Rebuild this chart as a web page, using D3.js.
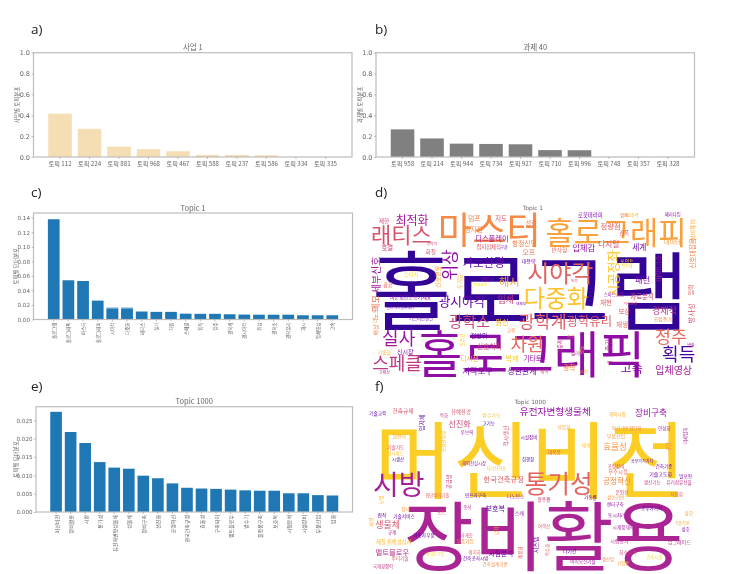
<!DOCTYPE html>
<html><head><meta charset="utf-8">
<script src="https://cdn.jsdelivr.net/npm/d3@7/dist/d3.min.js"></script>
<style>
html,body{margin:0;padding:0;background:#fff;}
svg{display:block;filter:blur(0.5px);}
text{font-family:"Noto Sans CJK KR","Noto Sans",sans-serif;}
</style></head><body>
<svg id="c" width="734" height="574"></svg>
<script>
// Panel a / b
const aLabels=["토픽 112","토픽 224","토픽 881","토픽 968","토픽 467","토픽 588","토픽 237","토픽 586","토픽 334","토픽 335"];
const aValues=[0.415,0.27,0.1,0.075,0.055,0.02,0.02,0.017,0.002,0.001];
const bLabels=["토픽 958","토픽 214","토픽 944","토픽 734","토픽 927","토픽 710","토픽 996","토픽 748","토픽 357","토픽 328"];
const bValues=[0.265,0.178,0.128,0.125,0.122,0.066,0.065,0.001,0.001,0.001];
const unitTicks=[0,0.2,0.4,0.6,0.8,1.0];
// Panel c
const cLabels=["홀로그램","홀로그래픽","마스터","홀로그래피","시야각","다중화","래티스","실사","차원","스페클","획득","정주","광학계","광시야각","위상","광학소","광학유리","해시","입체영상","고속"];
const cValues=[0.138,0.054,0.053,0.026,0.0145,0.0145,0.011,0.0105,0.0105,0.008,0.0078,0.0078,0.0072,0.0068,0.0066,0.0066,0.0066,0.0058,0.0058,0.0058];
const cUpper=[0,0,0,0,0.0165,0.0165,0,0,0,0,0,0,0,0,0,0,0,0,0,0];
const cTicks=[0,0.02,0.04,0.06,0.08,0.10,0.12,0.14];
// Panel e
const eLabels=["머신비전","장비활용","시방","통기성","유전자변형생물체","생물체","장비구축","선진화","공정혁신","한국건축규정","효율성","구축되어","멜트블로우","방수기","플랫폼구축","보호복","시험분석","시설장비","부품산업","업화"];
const eValues=[0.0273,0.0218,0.0188,0.0136,0.0121,0.0118,0.0099,0.0092,0.0078,0.0066,0.0064,0.0063,0.0061,0.0059,0.0058,0.0058,0.0051,0.0051,0.0046,0.0045];
const eTicks=[0,0.005,0.01,0.015,0.02,0.025];

// Word cloud d: horizontal words
const dWords=["홀로그램","홀로그래픽","마스터","홀로그래피","래티스","최적화","시야각","다중화","가로환경","광시야각","광학소","광학계","광학유리","실사","스페클","차원","정주","획득","고속","입체영상","저작도구","성관관계","복제","기타토","디시젼","신호처리","전방위","원천","입체","해시","입체감","디지털","세계","패턴","자료분석","경제적","공점증기","보상","재현","재생","스마트그램","거리환경","디스플레이","항정신맹","접지점체적","구글","덤프","점지점","지도","선결","정량점","진폭","로봇테라피","정의","공급절게","패러다임","제한","데이터","호결","회절","광학적","프리지","오프","대용량","반사형","포인트","방주체","데이시","퍼널효과","미분회전능증기체표","달러 이미징촉매기","기스터반센신","대체부","광끝","특정","직각","기술들","신시장","고체상","교육","컬러","광학","제곡","시연","변환"];
const dX=[490,492,367,747,103,135,580,567,350,285,307,527,667,95,90,480,912,935,794,920,332,465,435,497,307,367,336,405,416,427,650,725,817,827,825,892,887,772,717,765,740,790,375,472,365,411,322,320,402,492,731,772,670,772,792,917,51,916,61,191,195,132,485,485,577,780,780,362,340,131,100,162,462,63,622,611,52,115,52,432,625,607,532,650,972];
const dY=[290,483,115,120,130,87,245,320,215,330,390,392,392,440,515,460,437,490,533,537,540,540,503,505,505,468,435,395,328,272,170,160,168,268,320,362,385,365,337,402,313,340,142,160,172,172,85,117,83,97,105,128,75,75,75,73,92,155,172,185,160,252,187,212,178,212,228,265,283,318,352,385,340,285,272,440,485,483,545,420,487,530,542,542,465];
const dEm=[258,149,112,92,66,36,72,70,34,38,45,52,37,54,54,54,52,54,36,30,25,24,22,20,20,20,18,22,26,34,25,23,23,24,19,27,15,19,19,20,13,11,22,20,16,12,21,20,20,18,22,16,16,14,12,13,17,18,19,17,11,16,21,15,17,15,12,15,11,15,11,13,11,16,11,12,15,18,12,14,15,20,14,14,12];
const dTone=[0.07,0.3,0.72,0.78,0.55,0.35,0.6,0.87,0.2,0.2,0.5,0.58,0.58,0.33,0.45,0.62,0.62,0.12,0.28,0.35,0.25,0.22,0.9,0.3,0.85,0.5,0.12,0.85,0.45,0.8,0.3,0.55,0.2,0.22,0.5,0.42,0.72,0.6,0.58,0.62,0.3,0.55,0.32,0.7,0.55,0.15,0.7,0.75,0.55,0.68,0.6,0.5,0.25,0.68,0.82,0.3,0.5,0.78,0.5,0.55,0.5,0.92,0.65,0.25,0.62,0.9,0.92,0.3,0.95,0.3,0.15,0.15,0.25,0.62,0.55,0.6,0.85,0.25,0.42,0.72,0.4,0.72,0.5,0.8,0.35];
// Word cloud d: vertical words
const dVWords=["위상","시공정좌","세부신호","하이웨이","신호대잡음","마이너스","신호변환","우기능","메모","노드","더","해상","입력","방사성","층간","이중계","조주요","광도","예"];
const dVX=[245,735,25,975,975,870,210,280,25,25,25,25,970,970,722,580,285,640,725];
const dVY=[225,250,255,120,190,235,260,275,340,370,392,420,300,370,465,470,450,480,518];
const dVEm=[50,38,30,18,20,22,18,16,26,20,14,18,18,22,20,16,14,15,14];
const dVTone=[0.3,0.88,0.35,0.8,0.7,0.35,0.8,0.85,0.65,0.7,0.72,0.7,0.6,0.55,0.42,0.45,0.88,0.8,0.4];

// Word cloud f: horizontal words
const fWords=["머신비전","장비활용","통기성","시방","유전자변형생물체","장비구축","선진화","효율성","공정혁신","한국건축규정","보호복","생물체","멜트블로우","제질 위해성심사","시험분석","기술교육","건축규제","유해환경","특화","방수기능","고기능","루브릭","기술지도","정전사","정시제도","시생산","시설장비","대폭봉","집행청","해외전실시장","지리산학표","산업화","세계","해외시장","혁신기반","첨단화","안성화","부품산업","공부가기기치","공정장비","우주시플","건축기준","기술고도화","발포형","유리섬유선물","생산기능","성능기반","분원선","자립화","가동률","센터구축","인프라구축","첨단뿌리기술","나노탄소","활용률","공부가가치","상한","동시처리","기술기반","상호","시제품제작","시험평가","업그레이드","회소금속","건축시방","다기간","바이오신기술","생산업","산업용","스캐","여객선","종석","인트","합작","기술서비스","규제","자동차부품","사계층","부품기업","합치하","건축공사시방","건축설계기준","바이오기업","뿌리기술","국제경쟁력","점사"];
const fX=[490,530,575,95,565,852,278,744,750,410,385,62,76,80,402,32,108,282,231,373,365,300,86,97,85,93,486,562,483,321,388,591,656,751,759,805,892,747,825,747,753,891,881,956,936,856,746,765,929,670,745,326,211,446,531,854,965,749,945,956,769,757,937,782,862,608,648,723,769,457,531,301,224,45,111,75,171,299,295,323,326,384,203,99,48,115];
const fY=[225,455,305,310,93,97,130,198,300,295,383,432,515,485,520,98,92,97,106,102,128,155,200,167,220,238,170,215,238,250,265,142,195,102,143,143,143,167,243,258,277,258,280,287,305,305,352,335,343,352,372,345,345,348,358,385,400,405,428,448,440,482,485,515,530,510,543,537,550,397,437,382,397,406,407,456,465,464,483,515,535,552,523,535,558,388];
const fEm=[254,228,74,84,29,26,24,26,23,22,21,27,22,16,20,14,17,16,13,15,14,14,14,15,13,13,14,14,13,13,13,14,14,14,14,14,14,15,12,14,16,14,15,14,14,14,14,14,14,14,14,14,13,14,14,14,14,14,12,13,14,15,15,14,13,15,14,13,13,15,13,13,13,14,14,14,14,13,14,13,14,14,12,14,13,13];
const fTone=[0.9,0.38,0.6,0.36,0.32,0.3,0.5,0.75,0.72,0.58,0.15,0.55,0.42,0.85,0.2,0.15,0.55,0.55,0.45,0.85,0.12,0.35,0.55,0.8,0.88,0.12,0.25,0.55,0.1,0.35,0.85,0.78,0.85,0.82,0.72,0.7,0.4,0.75,0.2,0.55,0.62,0.25,0.2,0.25,0.42,0.45,0.75,0.55,0.55,0.2,0.3,0.15,0.6,0.35,0.5,0.15,0.78,0.32,0.8,0.25,0.35,0.38,0.42,0.5,0.95,0.15,0.35,0.72,0.8,0.3,0.58,0.42,0.55,0.2,0.2,0.4,0.15,0.55,0.75,0.6,0.2,0.72,0.92,0.55,0.45,0.75];
// Word cloud f: vertical words
const fVWords=["적시생산","공정안정성","미세입자","공간","입자체","공급망","농업","패션","감지","시스템","제품화","특수화"];
const fVX=[415,228,955,903,163,245,42,12,388,505,460,540];
const fVY=[168,185,168,200,128,305,360,425,452,495,518,510];
const fVEm=[17,14,13,14,18,16,14,14,14,18,14,13];
const fVTone=[0.55,0.85,0.35,0.7,0.15,0.5,0.85,0.82,0.78,0.2,0.6,0.6];

const panelNames=["a)","b)","c)","d)","e)","f)"];
const axisGray="#bdbdbd", textGray="#666";
const svg=d3.select("#c");

function barPanel(o){
  const g=svg.append("g");
  const x=d3.scaleBand().domain(o.labels).range([o.l,o.r]).paddingInner(0.2).paddingOuter(o.outer);
  const y=d3.scaleLinear().domain(o.domain).range([o.b,o.t]);
  if(o.upper){
    g.selectAll("rect.u").data(o.upper).join("rect").attr("class","u")
      .attr("x",(d,i)=>x(o.labels[i])).attr("width",x.bandwidth())
      .attr("y",d=>y(d)).attr("height",d=>y(0)-y(d)).attr("fill",o.color).attr("opacity",0.65);
  }
  g.selectAll("rect.v").data(o.values).join("rect").attr("class","v")
    .attr("x",(d,i)=>x(o.labels[i])).attr("width",x.bandwidth())
    .attr("y",d=>y(d)).attr("height",d=>y(0)-y(d)).attr("fill",o.color);
  g.append("rect").attr("x",o.l).attr("y",o.t).attr("width",o.r-o.l).attr("height",o.b-o.t)
    .attr("fill","none").attr("stroke",axisGray).attr("stroke-width",1.2);
  const ay=g.append("g").attr("transform",`translate(${o.l},0)`)
    .call(d3.axisLeft(y).tickValues(o.ticks).tickFormat(d3.format(o.fmt)).tickSize(2).tickPadding(1.5));
  ay.select(".domain").remove();
  ay.selectAll("line").attr("stroke","#999").attr("stroke-width",0.6);
  ay.selectAll("text").attr("fill",textGray).style("font-size",o.tick+"px").style("font-family","'DejaVu Sans'");
  const ax=g.append("g").attr("transform",`translate(0,${o.b})`)
    .call(d3.axisBottom(x).tickSize(2).tickPadding(o.rot?2:2.5));
  ax.select(".domain").remove();
  ax.selectAll("line").attr("stroke","#999").attr("stroke-width",0.6);
  const tl=ax.selectAll("text").attr("fill",textGray).style("font-size",o.xs+"px");
  if(o.rot){
    tl.attr("text-anchor","end").attr("dy",null).attr("dominant-baseline","central")
      .attr("x",0).attr("y",0)
      .attr("transform",`translate(0,3) rotate(-90)`);
  }
  g.append("text").attr("x",(o.l+o.r)/2).attr("y",o.t-2.5).attr("text-anchor","middle")
    .attr("fill",textGray).style("font-size","7.5px").text(o.title);
  g.append("text").attr("transform",`translate(${o.yx},${(o.b+o.t)/2}) rotate(-90)`)
    .attr("text-anchor","middle").attr("fill",textGray).style("font-size","5.5px").text(o.ylab);
}
barPanel({labels:aLabels,values:aValues,domain:[0,1],ticks:unitTicks,fmt:".1f",l:33.5,r:352,t:52.7,b:157,outer:0.5,color:"#f5deb3",title:"사업 1",ylab:"사업별 토픽분포",yx:18.5,tick:6.5,xs:6.2});
barPanel({labels:bLabels,values:bValues,domain:[0,1],ticks:unitTicks,fmt:".1f",l:376,r:694.5,t:52.7,b:157,outer:0.5,color:"#808080",title:"과제 40",ylab:"과제별 토픽분포",yx:362,tick:6.5,xs:6.2});
barPanel({labels:cLabels,values:cValues,upper:cUpper,domain:[0,0.1466],ticks:cTicks,fmt:".2f",l:33.5,r:352.5,t:213,b:319.5,outer:0.98,color:"#1f77b4",title:"Topic 1",ylab:"토픽별 단어분포",yx:17.5,rot:true,tick:5.6,xs:4.5});
barPanel({labels:eLabels,values:eValues,domain:[0,0.0287],ticks:eTicks,fmt:".3f",l:36,r:352.5,t:406.7,b:512,outer:0.98,color:"#1f77b4",title:"Topic 1000",ylab:"토픽별 단어분포",yx:17.5,rot:true,tick:5.6,xs:5});

// panel letters
const letterX=[31,375,31,375,31,375], letterY=[34,34,197,197,391,391];
svg.selectAll("text.p").data(panelNames).join("text").attr("class","p")
  .attr("x",(d,i)=>letterX[i]).attr("y",(d,i)=>letterY[i])
  .style("font-family","'Open Sans'").style("font-size","13.5px").attr("fill","#222").text(d=>d);

function cloud(ox,oy,hw,hx,hy,he,ht,vw,vx,vy,ve,vt,title,tx,ty){
  const sx=d3.scaleLinear().domain([0,1101]).range([ox,ox+367]);
  const sy=d3.scaleLinear().domain([0,570]).range([oy,oy+190]);
  const fs=d3.scaleLinear().domain([0,300]).range([0,100]);
  const col=d3.interpolatePlasma;
  const g=svg.append("g");
  g.selectAll("text.h").data(hw).join("text").attr("class","h")
    .attr("x",(d,i)=>sx(hx[i])).attr("y",(d,i)=>sy(hy[i]))
    .attr("text-anchor","middle").attr("dominant-baseline","central")
    .style("font-size",(d,i)=>fs(he[i])+"px").attr("fill",(d,i)=>col(ht[i])).text(d=>d);
  g.selectAll("text.v").data(vw).join("text").attr("class","v")
    .attr("transform",(d,i)=>`translate(${sx(vx[i])},${sy(vy[i])}) rotate(-90)`)
    .attr("text-anchor","middle").attr("dominant-baseline","central")
    .style("font-size",(d,i)=>fs(ve[i])+"px").attr("fill",(d,i)=>col(vt[i])).text(d=>d);
  g.append("text").attr("x",sx(tx)).attr("y",sy(ty)).attr("text-anchor","middle").attr("dominant-baseline","central")
    .attr("fill",textGray).style("font-size","5.8px").style("font-family","'DejaVu Sans'").text(title);
}
cloud(367,190,dWords,dX,dY,dEm,dTone,dVWords,dVX,dVY,dVEm,dVTone,"Topic 1",498,55);
cloud(367,380,fWords,fX,fY,fEm,fTone,fVWords,fVX,fVY,fVEm,fVTone,"Topic 1000",490,67);
</script>
</body></html>
